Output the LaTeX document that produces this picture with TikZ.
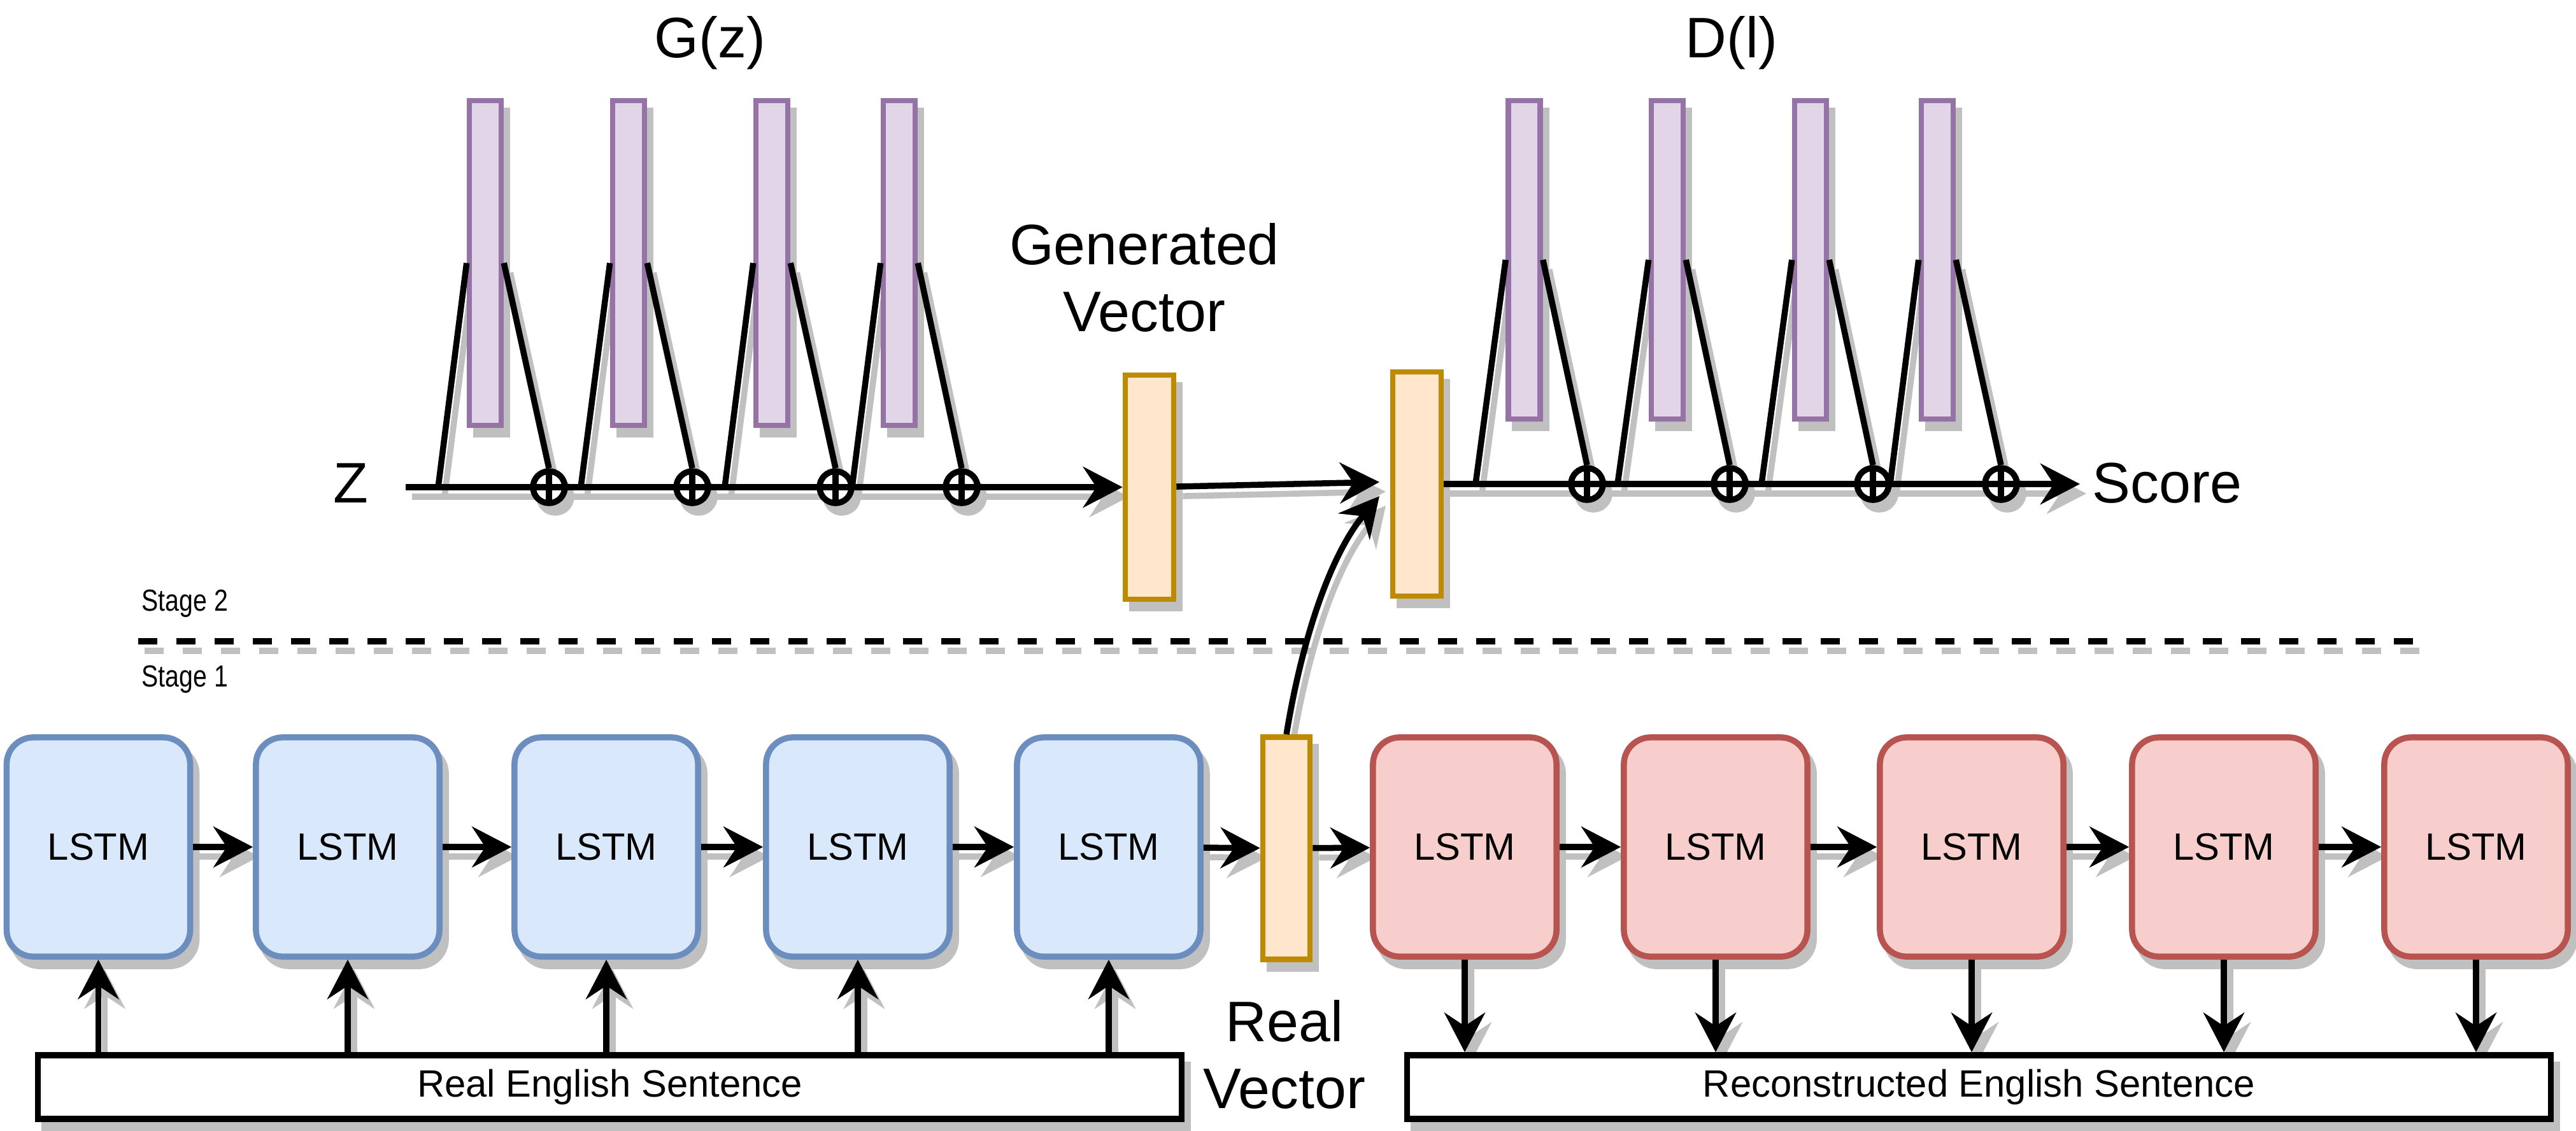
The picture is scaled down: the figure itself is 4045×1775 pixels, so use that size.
\documentclass[tikz,border=0pt]{standalone}
\usepackage{fontspec}
\setmainfont{Liberation Sans}
\newfontfamily\narrowsans[FakeStretch=0.82]{Liberation Sans}
\usetikzlibrary{arrows.meta,shadows}
\definecolor{shg}{HTML}{C0C0C0}
\definecolor{bluef}{HTML}{DAE8FC}\definecolor{blued}{HTML}{6C8EBF}
\definecolor{redf}{HTML}{F8CECC}\definecolor{redd}{HTML}{B85450}
\definecolor{purf}{HTML}{E1D5E7}\definecolor{purd}{HTML}{9673A6}
\definecolor{orf}{HTML}{FFE6CC}\definecolor{ord}{HTML}{BD8A00}
\newcommand\fsmid{\fontsize{17}{20.4}\selectfont}
\newcommand\fsbig{\fontsize{25.5}{29.9}\selectfont}
\newcommand\fssmall{\narrowsans\fontsize{13.6}{16}\selectfont}
\pgfdeclarelayer{bgl}\pgfdeclarelayer{shad}\pgfdeclarelayer{front}
\pgfsetlayers{bgl,shad,main,front}
\tikzset{
 sh/.style={drop shadow={shadow xshift=0.1cm, shadow yshift=-0.15cm, opacity=1, fill=shg, draw=shg}},
 lstmbox/.style={rectangle, rounded corners=0.42cm, line width=0.095cm, minimum width=2.88cm, minimum height=3.44cm, inner sep=0, sh, font=\fsmid},
 blstm/.style={lstmbox, draw=blued, fill=bluef},
 rlstm/.style={lstmbox, draw=redd, fill=redf},
 bar/.style={rectangle, draw=purd, fill=purf, line width=0.085cm, minimum width=0.5cm, inner sep=0, sh},
 vecbox/.style={rectangle, draw=ord, fill=orf, line width=0.085cm, minimum width=0.76cm, minimum height=3.52cm, inner sep=0, sh},
 plus/.style={circle, draw=black, fill=white, line width=0.095cm, minimum size=0.5cm, inner sep=0, sh,
   path picture={\draw[line width=0.095cm] (path picture bounding box.north) -- (path picture bounding box.south) (path picture bounding box.west) -- (path picture bounding box.east);}},
 sentbox/.style={rectangle, draw=black, fill=white, line width=0.095cm, minimum width=17.95cm, minimum height=1cm, inner sep=0, sh, font=\fsmid},
 ln/.style={line width=0.095cm, color=black},
 arr/.style={ln, -{Stealth[length=0.62cm, width=0.64cm, inset=0.21cm]}},
 lbl/.style={inner sep=0, font=\fsbig},
}
\newcommand\cn[2]{%
 \begin{pgfonlayer}{shad}\draw[#1,color=shg,transform canvas={shift={(0.1cm,-0.15cm)}}] #2;\end{pgfonlayer}%
 \begin{pgfonlayer}{front}\draw[#1] #2;\end{pgfonlayer}}
\begin{document}
\begin{tikzpicture}[x=0.01cm, y=-0.01cm]
\begin{pgfonlayer}{bgl}
\fill[white] (0,0) rectangle (4045,1775);
\end{pgfonlayer}
\useasboundingbox (0,0) rectangle (4045,1775);

% texts
\node[lbl, anchor=base] (gz) at (1115,90) {G(z)};
\node[lbl, anchor=base] (dlab) at (2719,90) {D(l)};
\node[lbl, anchor=base] (zl) at (551,789) {Z};
\node[lbl, anchor=base west] (sc) at (3285,789) {Score};
\node[lbl, align=center] (gvl) at (1797,436) {Generated\\Vector};
\node[lbl, align=center] (rvl) at (2017,1656) {Real\\Vector};
\node[inner sep=0, font=\fssmall, anchor=base west] (s2) at (222,959) {Stage 2};
\node[inner sep=0, font=\fssmall, anchor=base west] (s1) at (222,1078) {Stage 1};

% stage 1
\foreach \n/\x in {1/154.5,2/546,3/952,4/1347,5/1741} \node[blstm] (b\n) at (\x,1330) {LSTM};
\foreach \n/\x in {1/2300,2/2694,3/3096,4/3492,5/3888} \node[rlstm] (r\n) at (\x,1330) {LSTM};
\node[vecbox, minimum width=0.74cm, minimum height=3.49cm] (rv) at (2020,1332) {};
\node[sentbox] (rs) at (957.5,1707) {Real English Sentence};
\node[sentbox] (cs) at (3107.5,1707) {Reconstructed English Sentence};

% stage 2
\node[vecbox] (gv) at (1805,765) {};
\node[vecbox] (dv) at (2225,760) {};
\foreach \n/\x in {1/762,2/987,3/1212,4/1412} \node[bar, minimum height=5.1cm] (g\n) at (\x,413) {};
\foreach \n/\x in {1/2393.5,2/2618,3/2843,4/3042} \node[bar, minimum height=5.0cm] (d\n) at (\x,408) {};
\foreach \n/\x in {1/862,2/1087,3/1312,4/1510} \node[plus] (go\n) at (\x,765) {};
\foreach \n/\x in {1/2492,2/2716,3/2941,4/3142} \node[plus] (do\n) at (\x,760) {};
\foreach \n/\x in {1/688,2/912,3/1138,4/1338} \coordinate (gb\n) at (\x,765);
\foreach \n/\x in {1/2317,2/2540,3/2766,4/2968} \coordinate (db\n) at (\x,760);
\coordinate (zs) at (637,765);
\coordinate (dend) at (3266,760);
\coordinate (din1) at (2166,757);
\coordinate (din2) at (2166,779);
\coordinate (dash1) at (217,1007);
\coordinate (dash2) at (3793,1007);

% connectors
\cn{ln, line width=0.1cm, dash pattern=on 0.3cm off 0.3cm}{(dash1) -- (dash2)}
\foreach \a/\b in {b1/b2,b2/b3,b3/b4,b4/b5,b5/rv,rv/r1,r1/r2,r2/r3,r3/r4,r4/r5} {\cn{arr}{(\a) -- (\b)}}
\foreach \n in {1,...,5} {\cn{arr}{(b\n.south |- rs.north) -- (b\n.south)}}
\foreach \n in {1,...,5} {\cn{arr}{(r\n.south) -- (r\n.south |- cs.north)}}
\foreach \n in {1,...,4} {\cn{ln}{(gb\n) -- (g\n.west)}\cn{ln}{(g\n.east) -- (go\n.north)}}
\foreach \n in {1,...,4} {\cn{ln}{(db\n) -- (d\n.west)}\cn{ln}{(d\n.east) -- (do\n.north)}}
\cn{arr}{(zs) -- (gv)}
\cn{arr}{(gv) -- (din1)}
\cn{arr}{(dv) -- (dend)}
\cn{arr}{(rv.north) .. controls (2045,1000) and (2090,870) .. (din2)}
\end{tikzpicture}
\end{document}
